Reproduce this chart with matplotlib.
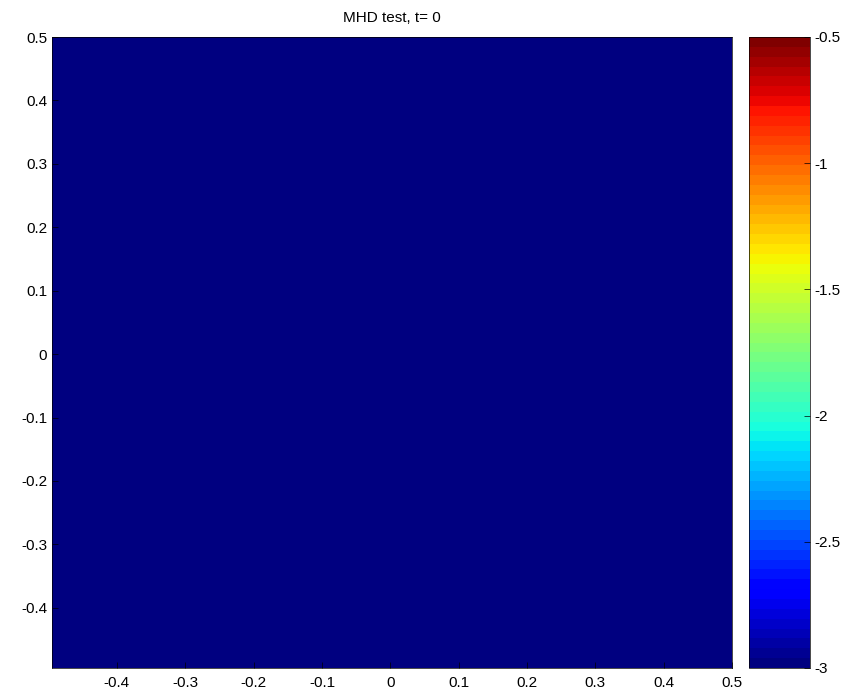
import numpy as np
import matplotlib
matplotlib.use("Agg")
import matplotlib.pyplot as plt

plt.rcParams['font.family'] = ['Liberation Sans', 'DejaVu Sans']

# grid (cell-centred, 100 x 100) and field values: a uniform -3 field at t = 0
x_edges = np.linspace(-0.495, 0.5, 101)
y_edges = np.linspace(-0.495, 0.5, 101)
field = np.full((100, 100), -3.0)

clim = (-3.0, -0.5)
x_ticks = [-0.4, -0.3, -0.2, -0.1, 0, 0.1, 0.2, 0.3, 0.4, 0.5]
x_labels = ['-0.4', '-0.3', '-0.2', '-0.1', '0', '0.1', '0.2', '0.3', '0.4', '0.5']
y_ticks = [-0.4, -0.3, -0.2, -0.1, 0, 0.1, 0.2, 0.3, 0.4, 0.5]
y_labels = ['-0.4', '-0.3', '-0.2', '-0.1', '0', '0.1', '0.2', '0.3', '0.4', '0.5']
cb_ticks = [-3, -2.5, -2, -1.5, -1, -0.5]
cb_labels = ['-3', '-2.5', '-2', '-1.5', '-1', '-0.5']

fig = plt.figure(figsize=(8.6, 6.93), dpi=100)
ax = fig.add_axes([52 / 860, 25 / 693, 680 / 860, 631 / 693])
cax = fig.add_axes([749 / 860, 25 / 693, 61 / 860, 631 / 693])

cmap = plt.get_cmap('jet', 64)
mesh = ax.pcolormesh(x_edges, y_edges, field, cmap=cmap, vmin=clim[0], vmax=clim[1],
                     shading='flat')
ax.set_xlim(x_edges[0], x_edges[-1])
ax.set_ylim(y_edges[0], y_edges[-1])
ax.set_xticks(x_ticks)
ax.set_xticklabels(x_labels)
ax.set_yticks(y_ticks)
ax.set_yticklabels(y_labels)
ax.tick_params(direction='in', length=4, width=0.5, labelsize=11, colors='black')
ax.tick_params(axis='x', pad=6)
for s in ax.spines.values():
    s.set_linewidth(0.5)
ax.set_title('MHD test, t= 0', fontsize=11, pad=11)

cb = fig.colorbar(mesh, cax=cax)
cb.set_ticks(cb_ticks)
cb.set_ticklabels(cb_labels)
cb.ax.tick_params(direction='in', length=4, width=0.5, labelsize=11)
cb.outline.set_linewidth(0.5)

fig.savefig('out.png', dpi=100)
